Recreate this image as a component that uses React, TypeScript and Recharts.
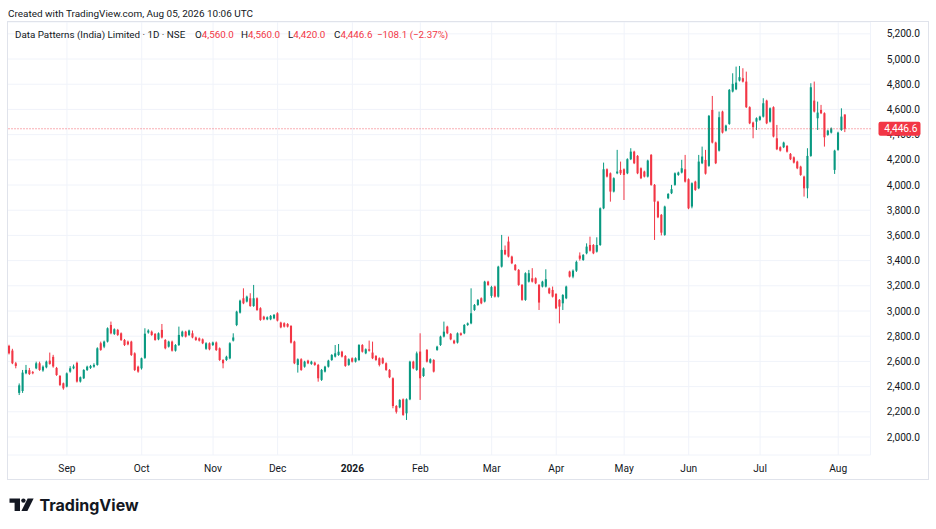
import React from 'react';
import {
  ComposedChart,
  Bar,
  XAxis,
  YAxis,
  CartesianGrid,
  ReferenceLine
} from 'recharts';

// daily candles, Aug 2025 -> Aug 05 2026
const OPEN = [
  2723, 2686, 2585, 2350, 2365, 2506, 2530, 2515, 2545, 2585, 2528, 2553, 2606, 2636, 2548, 2484, 2426,
  2400, 2519, 2545, 2588, 2440, 2466, 2532, 2548, 2558, 2572, 2744, 2717, 2757, 2889, 2818, 2850, 2823, 2770, 2757, 2757, 2664, 2558,
  2545, 2628, 2829, 2836, 2818, 2775, 2850, 2770, 2717, 2757, 2685, 2730, 2800, 2836, 2810, 2823, 2790, 2783, 2775, 2700, 2744,
  2730, 2750, 2704, 2611, 2611, 2624, 2765, 2889, 2987, 3101, 3075, 3101, 3040, 3101, 3022, 2955, 2934, 2934, 2942,
  2982, 2908, 2903, 2897, 2881, 2757, 2572, 2617, 2558, 2606, 2580, 2590, 2572, 2453, 2519, 2558, 2611, 2638, 2651, 2677, 2643,
  2572, 2625, 2598, 2611, 2730, 2664, 2696, 2670, 2643, 2625, 2625, 2585, 2532, 2466, 2246, 2235, 2299, 2188, 2299, 2598,
  2532, 2678, 2484, 2691, 2590, 2611, 2691, 2730, 2797, 2876, 2818, 2765, 2749, 2823, 2823, 2889, 2902, 3008, 3048, 3101, 3075,
  3233, 3120, 3194, 3114, 3352, 3485, 3551, 3432, 3366, 3326, 3207, 3088, 3233, 3260, 3260, 3207, 3194, 3194,
  3180, 3167, 3135, 3088, 3061, 3101, 3313, 3273, 3320, 3440, 3405, 3458, 3524, 3524, 3471, 3524, 3815, 4125, 4093, 3948, 4093,
  4120, 4125, 4093, 4205, 4265, 4231, 4133, 4107, 4067, 4239, 4001, 3868, 3763, 3604, 3895, 3935, 4001, 4080, 4099,
  4125, 4046, 3829, 4027, 3974, 4173, 4199, 4152, 4596, 4337, 4273, 4583, 4432, 4485, 4742, 4760, 4829, 4848, 4821, 4618, 4496,
  4503, 4517, 4543, 4670, 4503, 4618, 4371, 4300, 4300, 4310, 4247, 4220, 4186, 4146, 4067, 3974, 4231, 4670, 4530, 4596, 4570, 4398,
  4416, 4120, 4279, 4437, 4560
];
const HIGH = [
  2732, 2700, 2596, 2425, 2532, 2572, 2548, 2524, 2598, 2598, 2568, 2606, 2670, 2652, 2556, 2492, 2432,
  2512, 2562, 2575, 2598, 2480, 2538, 2566, 2572, 2585, 2712, 2757, 2765, 2870, 2916, 2862, 2858, 2830, 2778, 2765, 2764, 2672, 2566,
  2630, 2863, 2855, 2845, 2825, 2830, 2897, 2777, 2764, 2765, 2737, 2876, 2844, 2843, 2852, 2845, 2797, 2790, 2782, 2752, 2751,
  2757, 2758, 2711, 2618, 2645, 2752, 2823, 3002, 3090, 3180, 3122, 3141, 3207, 3108, 3030, 2962, 2957, 2968, 2976,
  2990, 2915, 2910, 2904, 2888, 2764, 2624, 2625, 2605, 2613, 2605, 2598, 2580, 2540, 2565, 2613, 2658, 2730, 2738, 2684, 2650,
  2624, 2632, 2632, 2737, 2737, 2703, 2765, 2757, 2650, 2632, 2632, 2592, 2539, 2473, 2253, 2300, 2306, 2306, 2605, 2605,
  2678, 2823, 2552, 2698, 2624, 2618, 2724, 2804, 2916, 2883, 2825, 2772, 2830, 2830, 2896, 2909, 3180, 3055, 3095, 3108, 3240,
  3240, 3200, 3201, 3359, 3604, 3520, 3591, 3439, 3373, 3333, 3214, 3307, 3326, 3340, 3267, 3214, 3240, 3331,
  3187, 3194, 3142, 3095, 3134, 3201, 3320, 3330, 3400, 3465, 3452, 3537, 3590, 3531, 3585, 3822, 4178, 4132, 4100, 4061, 4279,
  4186, 4132, 4212, 4292, 4272, 4238, 4140, 4114, 4201, 4246, 4008, 3875, 3770, 3836, 3936, 4001, 4100, 4106, 4200,
  4239, 4053, 4021, 4034, 4239, 4305, 4279, 4556, 4707, 4344, 4583, 4590, 4479, 4762, 4887, 4940, 4945, 4927, 4900, 4625, 4503,
  4537, 4550, 4689, 4677, 4616, 4625, 4477, 4307, 4344, 4317, 4254, 4227, 4193, 4153, 4074, 4292, 4808, 4821, 4662, 4636, 4577, 4439,
  4457, 4280, 4423, 4609, 4560
];
const LOW = [
  2655, 2578, 2545, 2333, 2350, 2498, 2492, 2498, 2538, 2525, 2518, 2545, 2574, 2550, 2485, 2405, 2375,
  2394, 2510, 2538, 2432, 2432, 2460, 2524, 2540, 2550, 2566, 2684, 2705, 2750, 2815, 2810, 2802, 2762, 2722, 2728, 2643, 2524, 2510,
  2535, 2620, 2820, 2803, 2764, 2768, 2782, 2696, 2710, 2678, 2678, 2722, 2792, 2790, 2802, 2783, 2763, 2758, 2737, 2692, 2688,
  2722, 2683, 2604, 2545, 2604, 2617, 2758, 2880, 2980, 3054, 3068, 3033, 3033, 3001, 2922, 2927, 2927, 2927, 2935,
  2917, 2863, 2869, 2869, 2742, 2578, 2511, 2525, 2550, 2578, 2573, 2565, 2439, 2445, 2512, 2551, 2604, 2631, 2644, 2631, 2557,
  2565, 2591, 2591, 2604, 2670, 2657, 2678, 2618, 2604, 2560, 2578, 2525, 2467, 2228, 2186, 2228, 2168, 2135, 2292, 2538,
  2525, 2294, 2477, 2591, 2583, 2512, 2684, 2723, 2790, 2816, 2768, 2737, 2742, 2803, 2816, 2882, 2895, 3001, 3041, 3054, 3068,
  3200, 3105, 3107, 3107, 3345, 3443, 3425, 3372, 3319, 3200, 3081, 3081, 3226, 3226, 3213, 3008, 3187, 3187,
  3134, 3107, 3015, 2902, 3008, 3094, 3266, 3260, 3310, 3400, 3398, 3450, 3472, 3451, 3464, 3517, 3808, 4060, 3868, 3941, 4086,
  4080, 3881, 4086, 4198, 4166, 4086, 4047, 4060, 4060, 3994, 3564, 3737, 3600, 3597, 3888, 3928, 3994, 4073, 4092,
  4020, 3808, 3815, 3954, 3967, 4166, 4083, 4145, 4330, 4166, 4266, 4409, 4425, 4478, 4735, 4753, 4822, 4814, 4611, 4483, 4371,
  4437, 4510, 4536, 4483, 4496, 4378, 4277, 4266, 4293, 4258, 4198, 4171, 4126, 4073, 3908, 3895, 4224, 4576, 4437, 4563, 4305, 4391,
  4409, 4088, 4272, 4430, 4420
];
const CLOSE = [
  2664, 2585, 2564, 2410, 2511, 2532, 2500, 2506, 2585, 2532, 2558, 2598, 2580, 2560, 2492, 2413, 2386,
  2505, 2545, 2560, 2440, 2474, 2532, 2558, 2564, 2572, 2704, 2691, 2757, 2863, 2823, 2855, 2810, 2770, 2730, 2735, 2651, 2532, 2519,
  2625, 2820, 2845, 2810, 2770, 2823, 2790, 2704, 2757, 2685, 2730, 2810, 2836, 2797, 2845, 2790, 2770, 2765, 2744, 2744, 2696,
  2750, 2690, 2611, 2585, 2637, 2744, 2790, 2995, 3082, 3061, 3114, 3040, 3101, 3008, 2929, 2934, 2950, 2961, 2969,
  2924, 2870, 2876, 2876, 2749, 2585, 2617, 2532, 2598, 2585, 2598, 2572, 2466, 2532, 2558, 2606, 2651, 2664, 2677, 2638, 2564,
  2617, 2598, 2625, 2730, 2677, 2696, 2685, 2625, 2611, 2572, 2585, 2532, 2474, 2246, 2200, 2294, 2175, 2299, 2598, 2545,
  2664, 2466, 2545, 2598, 2617, 2519, 2717, 2797, 2836, 2823, 2775, 2744, 2823, 2810, 2889, 2902, 2982, 3048, 3088, 3061, 3233,
  3207, 3190, 3114, 3352, 3485, 3450, 3432, 3379, 3326, 3207, 3088, 3300, 3300, 3233, 3220, 3067, 3233, 3252,
  3141, 3114, 3022, 3035, 3127, 3194, 3273, 3320, 3390, 3415, 3445, 3511, 3479, 3458, 3524, 3815, 4125, 4067, 3948, 4054, 4107,
  4093, 4080, 4205, 4265, 4173, 4093, 4054, 4067, 4194, 4001, 3868, 3744, 3622, 3829, 3929, 3967, 4093, 4099, 4133,
  4027, 3815, 4014, 3961, 4186, 4226, 4090, 4549, 4337, 4173, 4538, 4416, 4472, 4755, 4803, 4813, 4856, 4821, 4618, 4490, 4459,
  4530, 4543, 4649, 4490, 4609, 4385, 4284, 4273, 4337, 4265, 4205, 4178, 4133, 4080, 3974, 4231, 4776, 4583, 4575, 4570, 4379, 4432,
  4450, 4273, 4416, 4543, 4446.6
];

// empty slots to the right of the last bar (TradingView right offset)
const FUTURE_SLOTS = 7;

// first trading day of each month -> label
const MONTH_TICKS = [17, 39, 60, 79, 101, 121, 142, 161, 181, 200, 221, 244];
const MONTH_LABELS = ['Sep', 'Oct', 'Nov', 'Dec', '2026', 'Feb', 'Mar', 'Apr', 'May', 'Jun', 'Jul', 'Aug'];

const PRICE_TICKS = [2000, 2200, 2400, 2600, 2800, 3000, 3200, 3400, 3600, 3800, 4000, 4200, 4400, 4600, 4800, 5000, 5200];
const PRICE_DOMAIN = [1857, 5294];
const LAST_PRICE = 4446.6;

const UP = '#089981';
const DOWN = '#f23645';
const INK = '#131722';
const GRID = '#f0f3fa';
const FONT = 'Roboto, "Noto Sans", sans-serif';

const rows: any[] = OPEN.map((o, i) => ({
  i,
  o,
  h: HIGH[i],
  l: LOW[i],
  c: CLOSE[i],
  range: [LOW[i], HIGH[i]]
}));
for (let k = 0; k < FUTURE_SLOTS; k++) rows.push({ i: OPEN.length + k });

const fmt = (v: number) =>
  v.toLocaleString('en-US', { minimumFractionDigits: 1, maximumFractionDigits: 1 });

function Candle(props: any) {
  const { x, y, width, height, payload } = props;
  if (!payload || payload.h == null || height == null) return null;
  const { o, h, l, c } = payload;
  const span = h - l;
  const k = span > 0 ? height / span : 0;
  const cx = x + width / 2;
  const yO = y + (h - o) * k;
  const yC = y + (h - c) * k;
  const color = c >= o ? UP : DOWN;
  const bw = Math.max(1, width * 0.7);
  const top = Math.min(yO, yC);
  const bh = Math.max(1, Math.abs(yC - yO));
  return (
    <g>
      <line x1={cx} x2={cx} y1={y} y2={y + height} stroke={color} strokeWidth={1} />
      <rect x={cx - bw / 2} y={top} width={bw} height={bh} fill={color} />
    </g>
  );
}

function MonthTick(props: any) {
  const { x, payload } = props;
  const idx = MONTH_TICKS.indexOf(payload.value);
  const label = MONTH_LABELS[idx] ?? '';
  return (
    <text
      x={x}
      y={472}
      textAnchor="middle"
      fontSize={10.2}
      fontFamily={FONT}
      fontWeight={label === '2026' ? 700 : 400}
      fill={INK}
    >
      {label}
    </text>
  );
}

function PriceTick(props: any) {
  const { y, payload } = props;
  return (
    <text x={920} y={y + 3.6} textAnchor="end" fontSize={10.2} fontFamily={FONT} fill={INK}>
      {fmt(payload.value)}
    </text>
  );
}

// last-price tag on the price scale
function PriceTag(props: any) {
  const vb = props.viewBox || {};
  const left = vb.x + vb.width + 8;
  return (
    <g>
      <rect x={left} y={vb.y - 7} width={42} height={14} rx={2} fill={DOWN} />
      <text x={left + 39} y={vb.y + 3.6} textAnchor="end" fontSize={10.2} fontFamily={FONT} fill="#fff">
        {fmt(LAST_PRICE)}
      </text>
    </g>
  );
}

export default function App() {
  return (
    <div
      style={{
        position: 'relative',
        width: 936,
        height: 529,
        background: '#fff',
        overflow: 'hidden',
        fontFamily: FONT
      }}
    >
      <style>{'body{margin:0}'}</style>

      <div style={{ position: 'absolute', left: 0, top: 0 }}>
        <ComposedChart
          width={936}
          height={480}
          data={rows}
          margin={{ top: 22, right: 0, bottom: 0, left: 7.5 }}
          barCategoryGap={0}
        >
          <CartesianGrid stroke={GRID} strokeWidth={1} />
          <XAxis
            dataKey="i"
            type="category"
            ticks={MONTH_TICKS}
            interval={0}
            axisLine={false}
            tickLine={false}
            height={25}
            tick={(p: any) => <MonthTick {...p} />}
          />
          <YAxis
            orientation="right"
            type="number"
            domain={PRICE_DOMAIN}
            ticks={PRICE_TICKS}
            interval={0}
            allowDataOverflow
            axisLine={false}
            tickLine={false}
            width={65.5}
            tick={(p: any) => <PriceTick {...p} />}
          />
          <Bar dataKey="range" shape={(p: any) => <Candle {...p} />} isAnimationActive={false} />
          <ReferenceLine
            y={LAST_PRICE}
            stroke={DOWN}
            strokeOpacity={0.8}
            strokeWidth={1}
            strokeDasharray="1 2"
            label={<PriceTag />}
            {...({ zIndex: 2000 } as any)}
          />
        </ComposedChart>
      </div>

      {/* frame, header, legend and logo */}
      <svg
        width={936}
        height={529}
        style={{ position: 'absolute', left: 0, top: 0, pointerEvents: 'none' }}
      >
        <rect x={7.5} y={21.5} width={921} height={458} fill="none" stroke="#e0e3eb" />
        <text x={8} y={17} fontSize={9.95} fontFamily={FONT} fill={INK}>
          Created with TradingView.com, Aug 05, 2026 10:06 UTC
        </text>
        <text y={38} fontSize={9.8} fontFamily={FONT} fill={INK}>
          <tspan x={15}>Data Patterns (India) Limited · 1D · NSE</tspan>
          <tspan x={195}>O</tspan>
          <tspan fill={DOWN}>4,560.0</tspan>
          <tspan x={241}>H</tspan>
          <tspan fill={DOWN}>4,560.0</tspan>
          <tspan x={288}>L</tspan>
          <tspan fill={DOWN}>4,420.0</tspan>
          <tspan x={334}>C</tspan>
          <tspan fill={DOWN}>4,446.6</tspan>
          <tspan x={377} fill={DOWN}>−108.1 (−2.37%)</tspan>
        </text>

        {/* TradingView logo */}
        <g fill={INK}>
          <path d="M9.5 498.5 H20 V511 H14.6 V502.7 H9.5 Z" />
          <circle cx={23.4} cy={500.6} r={2.2} />
          <path d="M27.6 498.5 H33.6 L27.4 511 H21.4 Z" />
        </g>
        <text x={39.5} y={511} fontSize={16} fontWeight={700} fontFamily="Inter, Roboto, sans-serif" fill={INK}>
          TradingView
        </text>
      </svg>
    </div>
  );
}
